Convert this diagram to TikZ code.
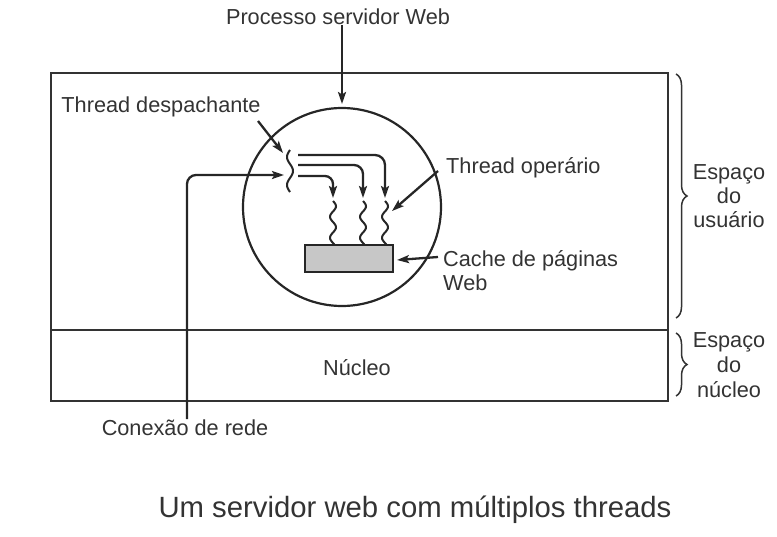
\documentclass[tikz,border=0pt]{standalone}
\usepackage{fontspec}
\setmainfont{Liberation Sans}
\usetikzlibrary{arrows.meta,decorations.pathreplacing,decorations.pathmorphing}
\begin{document}
\begin{tikzpicture}[x=1pt,y=-1pt,
  lbl/.style={text=black!80,font=\fontsize{21.7}{24}\selectfont,inner sep=0pt},
  arr/.style={line width=2.3pt,draw=black!85,-{Stealth[length=12pt,width=8pt,inset=2.5pt]}},
  frame/.style={line width=2.6pt,draw=black!80},
  wave/.style={line width=2pt,draw=black!85},
  br/.style={line width=1.5pt,draw=black!80,decorate,decoration={brace,amplitude=11pt}}]
\useasboundingbox (0,0) rectangle (777,536);
% outer box
\draw[frame] (51,73) rectangle (668,401);
\draw[frame] (51,330) -- (668,330);
% process circle
\node[circle,draw=black!85,line width=2.2pt,minimum size=198pt,inner sep=0pt] (proc) at (342,207) {};
% cache
\node[draw=black!85,line width=2.2pt,fill=black!22,minimum width=88pt,minimum height=27pt,inner sep=0pt] (cache) at (349,258.5) {};
% labels
\node[lbl] (plab) at (338,17) {Processo servidor Web};
\node[lbl] (dlab) at (161,107) {Thread despachante};
\node[lbl,anchor=west] (wlab) at (446,168) {Thread operário};
\node[lbl,anchor=west,align=left] (clab) at (443,271) {Cache de páginas\\Web};
\node[lbl] (nucleo) at (357,368) {Núcleo};
\node[lbl] (nlab) at (185,428) {Conexão de rede};
\node[lbl,align=center,font=\fontsize{21.7}{24}\selectfont] (ulab) at (729,196) {Espaço\\do\\usuário};
\node[lbl,align=center,font=\fontsize{21.7}{25}\selectfont] (klab) at (729,365) {Espaço\\do\\núcleo};
\node[lbl,font=\fontsize{29.3}{32}\selectfont] (cap) at (415,510) {Um servidor web com múltiplos threads};
% braces
\draw[br] (676,74) -- (676,318);
\draw[br] (676,333) -- (676,396);
% dispatcher thread
\draw[wave] plot[domain=0:42,samples=60,smooth] ({290-3*sin(\x*360/28)},{150+\x});
% worker threads
\foreach \xx/\nm in {333/wa,363/wb,385/wc}{
  \coordinate (\nm) at (\xx,198);
  \draw[wave] plot[domain=0:44,samples=60,smooth] ({\xx+3*sin(\x*360/21)},{201+\x});
}
% dispatcher to workers
\coordinate (s1) at (298,155);
\coordinate (s2) at (298,165);
\coordinate (s3) at (298,176);
\draw[arr,rounded corners=10pt] (s1) -| (wc);
\draw[arr,rounded corners=9pt] (s2) -| (wb);
\draw[arr,rounded corners=8pt] (s3) -| (wa);
% pointer arrows
\coordinate (pt) at (342,104);
\draw[arr] (plab.south -| pt) -- (pt);
\coordinate (dfrom) at (258,121);
\coordinate (dto) at (283,153);
\draw[arr] (dfrom) -- (dto);
\coordinate (wfrom) at (438,171);
\coordinate (wto) at (392,211);
\draw[arr] (wfrom) -- (wto);
\coordinate (cfrom) at (438,257);
\coordinate (cto) at (397,260);
\draw[arr] (cfrom) -- (cto);
% network connection
\coordinate (nbot) at (187,419);
\coordinate (nto) at (284,175);
\draw[arr,rounded corners=9pt] (nbot) |- (nto);
\end{tikzpicture}
\end{document}
